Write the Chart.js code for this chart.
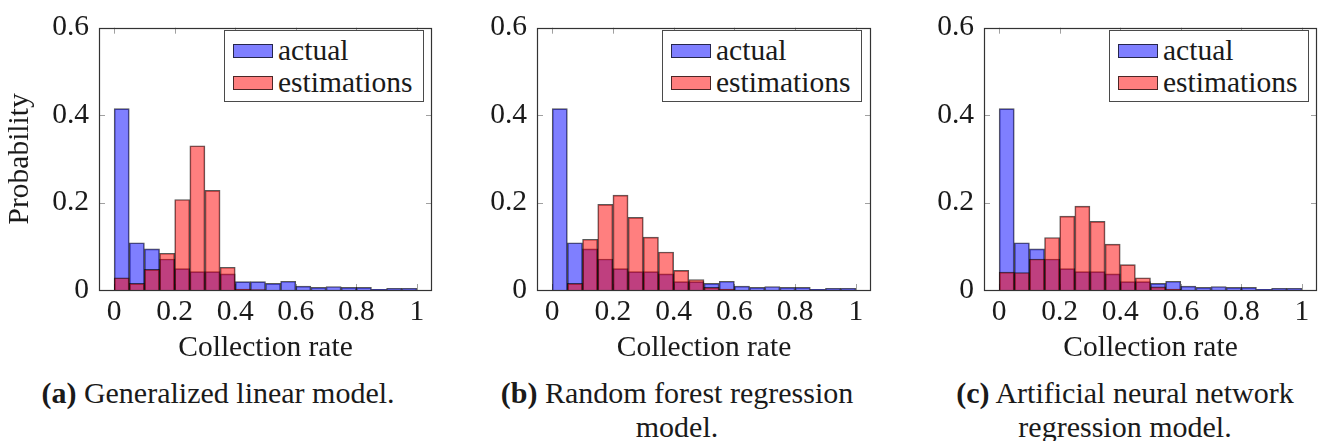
<!DOCTYPE html>
<html><head><meta charset="utf-8">
<script src="https://cdn.jsdelivr.net/npm/chart.js@4.4.1/dist/chart.umd.min.js"></script>
<style>
html,body{margin:0;padding:0;background:#fff;}
body{width:1318px;height:441px;position:relative;overflow:hidden;font-family:"Liberation Serif",serif;color:#1a1a1a;}
canvas{position:absolute;top:0;}
.legend{position:absolute;border:1px solid #4a4a4a;background:#fff;box-sizing:border-box;width:200px;height:72px;}
.legend .txt{position:absolute;left:53px;font-size:29.5px;line-height:34px;white-space:nowrap;}
.legend .sw{position:absolute;left:8px;width:40px;height:14px;border:1px solid rgba(0,0,0,0.7);box-sizing:border-box;}
.cap{position:absolute;top:376px;width:440px;font-size:30px;line-height:34px;text-align:center;white-space:nowrap;}
</style></head><body>
<script>
// ---- data ----
const binStarts = [0, 0.05, 0.1, 0.15, 0.2, 0.25, 0.3, 0.35, 0.4, 0.45, 0.5, 0.55, 0.6, 0.65, 0.7, 0.75, 0.8, 0.85, 0.9, 0.95];
const binWidth = 0.05;
const actual = [0.415, 0.108, 0.094, 0.071, 0.049, 0.042, 0.042, 0.037, 0.019, 0.019, 0.015, 0.020, 0.009, 0.006, 0.008, 0.006, 0.006, 0.0015, 0.004, 0.004];
const estGLM = [0.028, 0.015, 0.047, 0.084, 0.207, 0.330, 0.228, 0.052, 0.002, 0.001, 0, 0, 0, 0, 0, 0, 0, 0, 0, 0];
const estRF  = [0, 0.015, 0.116, 0.196, 0.217, 0.166, 0.121, 0.087, 0.045, 0.024, 0.006, 0.002, 0, 0, 0, 0, 0, 0, 0, 0];
const estANN = [0.041, 0.040, 0.071, 0.120, 0.169, 0.192, 0.157, 0.105, 0.058, 0.028, 0.007, 0.002, 0, 0, 0, 0, 0, 0, 0, 0];
const xTicks = [0, 0.2, 0.4, 0.6, 0.8, 1];
const xTickLabels = ['0', '0.2', '0.4', '0.6', '0.8', '1'];
const yTicks = [0, 0.2, 0.4, 0.6];
const yTickLabels = ['0', '0.2', '0.4', '0.6'];
const seriesNames = ['actual', 'estimations'];
const xTitle = 'Collection rate';
const yTitle = 'Probability';
const capLabels = ['(a)', '(b)', '(c)'];
const capLines = [['Generalized linear model.'], ['Random forest regression', 'model.'], ['Artificial neural network', 'regression model.']];

// ---- style ----
const FONT = '"Liberation Serif", serif';
const FS = 29.5;
const TXT = '#1a1a1a';
const BLUE = 'rgba(0,0,255,0.5)';
const RED = 'rgba(255,0,0,0.5)';
const EDGE = 'rgba(0,0,0,0.65)';

const panels = [
  {est: estGLM, left: 0,   width: 440, padRight: 8, showY: true,  capCenter: 218},
  {est: estRF,  left: 438, width: 441, padRight: 8, showY: false, capCenter: 677},
  {est: estANN, left: 885, width: 433, padRight: 1, showY: false, capCenter: 1125}
];

const framePlugin = {
  id: 'frame',
  beforeDatasetsDraw(chart) {
    const {ctx, chartArea: a, scales: {x, y}} = chart;
    ctx.save();
    ctx.strokeStyle = '#a0a0a0';
    ctx.lineWidth = 1;
    ctx.beginPath();
    xTicks.forEach(v => {
      const px = Math.round(x.getPixelForValue(v)) + 0.5;
      ctx.moveTo(px, a.top); ctx.lineTo(px, a.top + 6);
      ctx.moveTo(px, a.bottom); ctx.lineTo(px, a.bottom - 6);
    });
    yTicks.forEach(v => {
      const py = Math.round(y.getPixelForValue(v)) + 0.5;
      ctx.moveTo(a.left, py); ctx.lineTo(a.left + 6, py);
      ctx.moveTo(a.right, py); ctx.lineTo(a.right - 6, py);
    });
    ctx.stroke();
    ctx.restore();
  },
  afterDatasetsDraw(chart) {
    const {ctx, chartArea: a} = chart;
    ctx.save();
    ctx.strokeStyle = '#333';
    ctx.lineWidth = 1.2;
    ctx.strokeRect(Math.round(a.left) + 0.5, Math.round(a.top) + 0.5, Math.round(a.right - a.left) - 1, Math.round(a.bottom - a.top));
    ctx.restore();
  }
};

panels.forEach((p, k) => {
  const cv = document.createElement('canvas');
  cv.width = p.width; cv.height = 370;
  cv.style.left = p.left + 'px';
  document.body.appendChild(cv);

  const mk = (vals) => binStarts.map((s, i) => ({x: s + binWidth / 2, y: vals[i]}));
  new Chart(cv, {
    type: 'bar',
    data: {
      datasets: [
        {label: seriesNames[0], data: mk(actual), backgroundColor: BLUE, borderColor: EDGE, borderWidth: 1,
         grouped: false, order: 1, barPercentage: 1, categoryPercentage: 1},
        {label: seriesNames[1], data: mk(p.est), backgroundColor: RED, borderColor: EDGE, borderWidth: 1,
         grouped: false, order: 0, barPercentage: 1, categoryPercentage: 1}
      ]
    },
    options: {
      responsive: false, animation: false, events: [],
      layout: {padding: {left: 0, right: p.padRight, top: 23, bottom: 0}},
      plugins: {legend: {display: false}, tooltip: {enabled: false}},
      scales: {
        x: {
          type: 'linear', min: -0.05, max: 1.05, offset: false,
          grid: {display: false, drawTicks: false}, border: {display: false},
          afterBuildTicks: s => { s.ticks = xTicks.map(v => ({value: v})); },
          ticks: {padding: 5, autoSkip: false, maxRotation: 0, color: TXT, font: {family: FONT, size: FS},
                  callback: (v, i) => xTickLabels[i]},
          title: {display: true, text: xTitle, color: TXT, font: {family: FONT, size: FS}, padding: {top: 0, bottom: 4}},
          afterFit: s => { s.height = 80; }
        },
        y: {
          min: 0, max: 0.6,
          grid: {display: false, drawTicks: false}, border: {display: false},
          afterBuildTicks: s => { s.ticks = yTicks.map(v => ({value: v})); },
          ticks: {padding: 10, autoSkip: false, color: TXT, font: {family: FONT, size: FS},
                  callback: (v, i) => yTickLabels[i]},
          title: {display: p.showY, text: yTitle, color: TXT, font: {family: FONT, size: FS}, padding: {top: 3, bottom: 0}},
          afterFit: s => { s.width = 99; }
        }
      }
    },
    plugins: [framePlugin]
  });

  // legend (HTML)
  const frameLeft = p.left + 99;
  const lg = document.createElement('div');
  lg.className = 'legend';
  lg.style.left = (frameLeft + 125) + 'px';
  lg.style.top = '30px';
  [BLUE, RED].forEach((c, j) => {
    const sw = document.createElement('div');
    sw.className = 'sw'; sw.style.background = c; sw.style.top = (13 + 32 * j) + 'px';
    lg.appendChild(sw);
    const t = document.createElement('div');
    t.className = 'txt'; t.style.top = (2 + 32 * j) + 'px'; t.textContent = seriesNames[j];
    lg.appendChild(t);
  });
  document.body.appendChild(lg);

  // caption (HTML)
  const cap = document.createElement('div');
  cap.className = 'cap';
  cap.style.left = (p.capCenter - 220) + 'px';
  capLines[k].forEach((line, j) => {
    const d = document.createElement('div');
    if (j === 0) {
      const b = document.createElement('b'); b.textContent = capLabels[k];
      d.appendChild(b); d.appendChild(document.createTextNode(' ' + line));
    } else d.textContent = line;
    cap.appendChild(d);
  });
  document.body.appendChild(cap);
});
</script>
</body></html>
